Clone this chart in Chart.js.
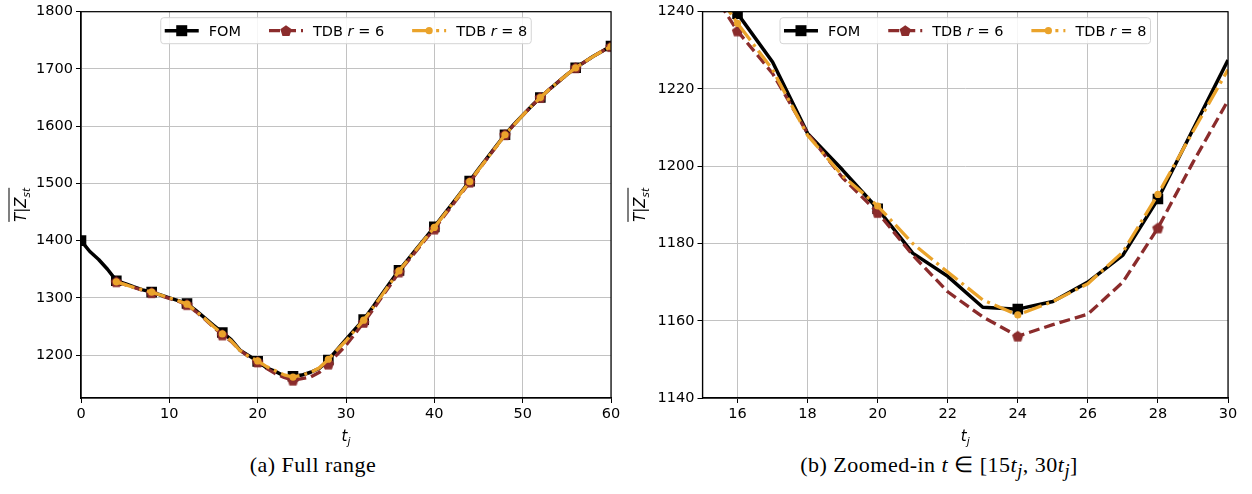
<!DOCTYPE html>
<html>
<head>
<meta charset="utf-8">
<script src="https://cdn.jsdelivr.net/npm/chart.js@4.4.0/dist/chart.umd.min.js"></script>
<style>
  html, body { margin: 0; padding: 0; background: #fff; }
  #fig { position: relative; width: 1252px; height: 494px; }
  .panel { position: absolute; top: 0; width: 626px; height: 450px; }
  .caption { position: absolute; top: 452px; width: 626px; text-align: center;
             font-family: "Liberation Serif", serif; font-size: 22px; letter-spacing: 0.5px; color: #000; }
</style>
</head>
<body>
<div id="fig">
  <div class="panel" style="left:0"><canvas id="graficaA" width="626" height="450"></canvas></div>
  <div class="panel" style="left:626px"><canvas id="graficaB" width="626" height="450"></canvas></div>
  <div class="caption" style="left:0">(a) Full range</div>
  <div class="caption" style="left:626px">(b) Zoomed-in <i>t</i> ∈ [15<i>t<sub>j</sub></i>, 30<i>t<sub>j</sub></i>]</div>
</div>
<script>
// --- datos ---
const tFom = [0,1,2,3,4,5,6,7,8,9,10,11,12,13,14,15,16,17,18,19,20,21,22,23,24,25,26,27,28,29,30,
              31,32,33,34,35,36,37,38,39,40,41,42,43,44,45,46,47,48,49,50,51,52,53,54,55,56,57,58,59,60];
const fom = [1400,1381,1367,1350,1330,1325,1319,1314,1310,1305,1300,1295,1290,1278,1265,1252,1239.5,1227,1208.5,1199,1189,
             1177.5,1171.5,1163.5,1163,1165,1170,1177,1191.5,1209.5,1227.5,
             1245,1262,1283,1305,1327,1348,1367,1386,1405,1424,1444,1464,1484,1504,1525,1545,1565,1585,1603,1619,
             1635,1650,1664,1677,1690,1702,1712,1722,1731,1740];

const tTdb = [4,5,6,7,8,9,10,11,12,13,14,15,16,17,18,19,20,21,22,23,24,25,26,27,28,29,30,
              31,32,33,34,35,36,37,38,39,40,41,42,43,44,45,46,47,48,49,50,51,52,53,54,55,56,57,58,59,60];
const tdb6 = [1328,1323,1318,1313,1309,1304,1299,1294,1288,1276,1263,1249,1235,1224,1208.5,1197,1188,
              1177,1167.5,1161,1156,1159,1161.7,1170,1184,1201,1217,
              1237,1257,1278,1300,1322,1345,1364,1383,1402,1420,1441,1461,1481,1502,1523,1544,1564,1585,1602,1619,
              1635,1650,1664,1677,1690,1702,1712,1722,1731,1739];
const tdb8 = [1328,1323,1318,1314,1310,1305,1300,1295,1289,1277,1264,1250,1237,1225,1208,1197.5,1189.7,
              1180,1172.6,1165.4,1161.5,1165,1169.6,1177.8,1192.7,1209,1225,
              1243,1261,1282,1303,1325,1347,1366,1385,1404,1423,1443,1463,1483,1503,1524,1544,1564,1585,1602,1619,
              1635,1650,1664,1677,1690,1702,1712,1722,1731,1739];

const etiquetas = ['FOM', 'TDB', 'TDB'];
const rangos = ['', '6', '8'];
const pasoMarcador = 4;

const ticksXA = [0,10,20,30,40,50,60];
const ticksYA = [1200,1300,1400,1500,1600,1700,1800];
const ticksXB = [16,18,20,22,24,26,28,30];
const ticksYB = [1140,1160,1180,1200,1220,1240];

const colores = ['#000000', '#8b2c2c', '#eaa32b'];
const trazos = [[], [11, 5], [19, 5, 3, 5]];
const grosores = [3.5, 3.3, 3.3];

// pentágono como estilo de punto
function pentagono(ctx, x, y, r) {
  ctx.beginPath();
  for (let k = 0; k < 5; k++) {
    const a = -Math.PI / 2 + k * 2 * Math.PI / 5;
    const px = x + r * Math.cos(a), py = y + r * Math.sin(a);
    if (k === 0) ctx.moveTo(px, py); else ctx.lineTo(px, py);
  }
  ctx.closePath();
  ctx.fill();
}
const imgPenta = document.createElement('canvas');
imgPenta.width = 13; imgPenta.height = 13;
{
  const c = imgPenta.getContext('2d');
  c.fillStyle = colores[1];
  pentagono(c, 6.5, 7, 6);
}

const puntos = (ts, ys) => ts.map((t, i) => ({ x: t, y: ys[i] }));
const conMarca = r => c => (c.raw && c.raw.x % pasoMarcador === 0) ? r : 0;

function crearDatasets() {
  return [
    { label: 'FOM', data: puntos(tFom, fom), borderColor: colores[0], borderWidth: grosores[0],
      pointStyle: 'rect', pointRadius: conMarca(7.5), pointBackgroundColor: colores[0],
      pointBorderWidth: 0, order: 3 },
    { label: 'TDB r=6', data: puntos(tTdb, tdb6), borderColor: colores[1], borderWidth: grosores[1],
      borderDash: trazos[1], pointStyle: imgPenta, pointRadius: conMarca(5),
      pointBorderWidth: 0, order: 2 },
    { label: 'TDB r=8', data: puntos(tTdb, tdb8), borderColor: colores[2], borderWidth: grosores[2],
      borderDash: trazos[2], pointStyle: 'circle', pointRadius: conMarca(3.6),
      pointBackgroundColor: colores[2], pointBorderWidth: 0, order: 1 }
  ];
}

// leyenda, marco y títulos dibujados a mano (texto con cursiva y subíndices)
const FS = 14.5;
const fN = `${FS}px "DejaVu Sans"`;
const fI = `italic ${FS}px "DejaVu Sans"`;

function anchoPartes(ctx, partes) {
  return partes.reduce((s, p) => { ctx.font = p[1]; return s + ctx.measureText(p[0]).width; }, 0);
}
function dibujarPartes(ctx, partes, x, y) {
  for (const p of partes) {
    ctx.font = p[1];
    ctx.fillText(p[0], x, y + (p[2] || 0));
    x += ctx.measureText(p[0]).width;
  }
}

function dibujarLeyenda(chart) {
  const { ctx, chartArea } = chart;
  const handle = 34, gap = 10, colSp = 28, pad = 4;
  const textos = etiquetas.map((e, i) => i === 0 ? [[e, fN]] : [[e + ' ', fN], ['r', fI], [' = ' + rangos[i], fN]]);
  const anchos = textos.map(t => anchoPartes(ctx, t));
  const total = 2 * pad + anchos.reduce((s, w) => s + handle + gap + w, 0) + colSp * (textos.length - 1);
  const cx = (chartArea.left + chartArea.right) / 2;
  const x0 = cx - total / 2, y0 = chartArea.top + 6, h = 26;
  ctx.save();
  ctx.beginPath();
  ctx.roundRect(x0, y0, total, h, 3);
  ctx.fillStyle = 'rgba(255,255,255,0.85)';
  ctx.fill();
  ctx.strokeStyle = '#d4d4d4';
  ctx.lineWidth = 1;
  ctx.stroke();
  let x = x0 + pad;
  const yc = y0 + h / 2;
  textos.forEach((t, i) => {
    ctx.strokeStyle = colores[i];
    ctx.fillStyle = colores[i];
    ctx.lineWidth = grosores[i];
    ctx.setLineDash(trazos[i]);
    ctx.beginPath();
    ctx.moveTo(x, yc); ctx.lineTo(x + handle, yc);
    ctx.stroke();
    ctx.setLineDash([]);
    const mx = x + handle / 2;
    if (i === 0) ctx.fillRect(mx - 5.5, yc - 5.5, 11, 11);
    else if (i === 1) pentagono(ctx, mx, yc + 0.5, 6);
    else { ctx.beginPath(); ctx.arc(mx, yc, 3.6, 0, Math.PI * 2); ctx.fill(); }
    x += handle + gap;
    ctx.fillStyle = '#000';
    ctx.textBaseline = 'alphabetic';
    dibujarPartes(ctx, t, x, yc + 5.5);
    x += anchos[i] + colSp;
  });
  ctx.restore();
}

function dibujarTitulos(chart, xTituloY) {
  const { ctx, chartArea } = chart;
  ctx.save();
  ctx.fillStyle = '#000';
  // eje x: t_j
  const px = [['t', 'italic 15px "DejaVu Sans"'], ['j', 'italic 10.5px "DejaVu Sans"', 4]];
  const wx = anchoPartes(ctx, px);
  dibujarPartes(ctx, px, (chartArea.left + chartArea.right) / 2 - wx / 2, 441);
  // eje y: overline(T|Z_st)
  const py = [['T', 'italic 15px "DejaVu Sans"'], ['|', '15px "DejaVu Sans"'], ['Z', 'italic 15px "DejaVu Sans"'],
              ['st', 'italic 10.5px "DejaVu Sans"', 4]];
  ctx.translate(xTituloY, (chartArea.top + chartArea.bottom) / 2);
  ctx.rotate(-Math.PI / 2);
  const wy = anchoPartes(ctx, py);
  dibujarPartes(ctx, py, -wy / 2, 5);
  ctx.fillRect(-wy / 2, -12.5, wy, 1);
  ctx.restore();
}

function crearGrafica(id, cfg) {
  const ejeFuente = { family: 'DejaVu Sans', size: FS };
  const eje = (ticks, fit) => ({
    type: 'linear',
    min: cfg[ticks][0], max: cfg[ticks][1],
    afterBuildTicks: s => { s.ticks = cfg[ticks][2].map(v => ({ value: v })); },
    afterFit: fit,
    grid: { color: '#c2c2c2', lineWidth: 1, tickColor: '#000', tickLength: 5 },
    border: { color: '#000', width: 1.2 },
    ticks: { font: ejeFuente, color: '#000', padding: 3, maxRotation: 0, autoSkip: false,
             callback: v => String(v) }
  });
  return new Chart(document.getElementById(id), {
    type: 'line',
    data: { datasets: crearDatasets() },
    options: {
      responsive: false,
      animation: false,
      layout: { padding: cfg.padding },
      elements: { line: { tension: 0, borderJoinStyle: 'round', borderCapStyle: 'butt' } },
      scales: {
        x: eje('x', s => { s.height = 52; }),
        y: eje('y', s => { s.width = cfg.anchoY; })
      },
      plugins: { legend: { display: false }, tooltip: { enabled: false } }
    },
    plugins: [{
      id: 'marcoLeyenda',
      afterDatasetsDraw(chart) {
        const { ctx, chartArea: a } = chart;
        ctx.save();
        ctx.strokeStyle = '#000';
        ctx.lineWidth = 1.2;
        ctx.strokeRect(a.left, a.top, a.right - a.left, a.bottom - a.top);
        ctx.restore();
        dibujarLeyenda(chart);
        dibujarTitulos(chart, cfg.xTituloY);
      }
    }]
  });
}

crearGrafica('graficaA', {
  x: [0, 60, ticksXA], y: [1125, 1800, ticksYA],
  padding: { top: 10, right: 15, left: 0, bottom: 0 }, anchoY: 81, xTituloY: 21
});
crearGrafica('graficaB', {
  x: [15, 30, ticksXB], y: [1140, 1240, ticksYB],
  padding: { top: 8, right: 24, left: 0, bottom: 0 }, anchoY: 76.5, xTituloY: 14
});
</script>
</body>
</html>
